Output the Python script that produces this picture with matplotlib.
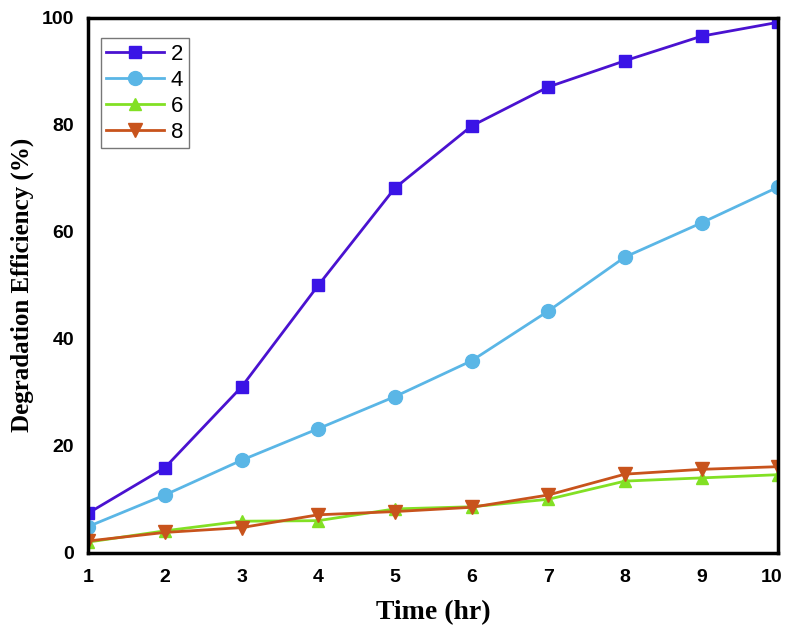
import matplotlib
matplotlib.use('Agg')
import matplotlib.pyplot as plt
import matplotlib.transforms as mtransforms

# data
time_hr = [1, 2, 3, 4, 5, 6, 7, 8, 9, 10]
eff_2 = [7.4, 15.9, 31.0, 50.0, 68.2, 79.8, 87.1, 92.0, 96.6, 99.2]
eff_4 = [4.9, 10.8, 17.3, 23.2, 29.2, 35.9, 45.2, 55.3, 61.7, 68.4]
eff_6 = [2.0, 4.1, 5.9, 6.0, 8.2, 8.6, 10.0, 13.4, 14.0, 14.6]
eff_8 = [2.2, 3.8, 4.7, 7.1, 7.7, 8.5, 10.8, 14.7, 15.6, 16.1]
labels = ['2', '4', '6', '8']

fig = plt.figure(figsize=(7.87, 6.42), dpi=100)
ax = fig.add_axes([0.112, 0.139, 0.877, 0.833])

ax.plot(time_hr, eff_2, color='#4A12D0', marker='s', markersize=8,
        markerfacecolor='#3A14E6', markeredgecolor='#3A14E6', linewidth=2, label=labels[0])
ax.plot(time_hr, eff_4, color='#5AB6E6', marker='o', markersize=10,
        linewidth=2, label=labels[1])
ax.plot(time_hr, eff_6, color='#82E024', marker='^', markersize=9,
        linewidth=2, label=labels[2])
ax.plot(time_hr, eff_8, color='#C8531C', marker='v', markersize=10,
        linewidth=2, label=labels[3])

ax.set_xlim(1, 10)
ax.set_ylim(0, 100)
ax.set_xticks(time_hr)
ax.set_yticks([0, 20, 40, 60, 80, 100])
ax.tick_params(axis='x', length=0, pad=12)
ax.tick_params(axis='y', length=0, pad=10)
for lbl in ax.get_xticklabels() + ax.get_yticklabels():
    lbl.set_family('Liberation Sans')
    lbl.set_fontweight('bold')
    lbl.set_fontsize(14)
for sp in ax.spines.values():
    sp.set_linewidth(2.5)

# last x label sits at the figure edge, nudge it in a bit
last = ax.get_xticklabels()[-1]
last.set_transform(last.get_transform() +
                   mtransforms.ScaledTranslation(-5 / 72, 0, fig.dpi_scale_trans))

ax.set_xlabel('Time (hr)', family='Liberation Serif', fontweight='bold',
              fontsize=20, labelpad=10)
ax.set_ylabel('Degradation Efficiency (%)', family='Liberation Serif',
              fontweight='bold', fontsize=18)
ax.yaxis.set_label_coords(-0.078, 0.5)

leg = ax.legend(loc='upper left', bbox_to_anchor=(0.012, 0.97), fancybox=False,
                prop={'family': 'Liberation Sans', 'size': 16},
                handlelength=2.6, handletextpad=0.3, borderpad=0.25,
                labelspacing=0.22, borderaxespad=0.2)
leg.get_frame().set_edgecolor('#555555')
leg.get_frame().set_linewidth(1.0)

fig.savefig('out.png', dpi=100)
